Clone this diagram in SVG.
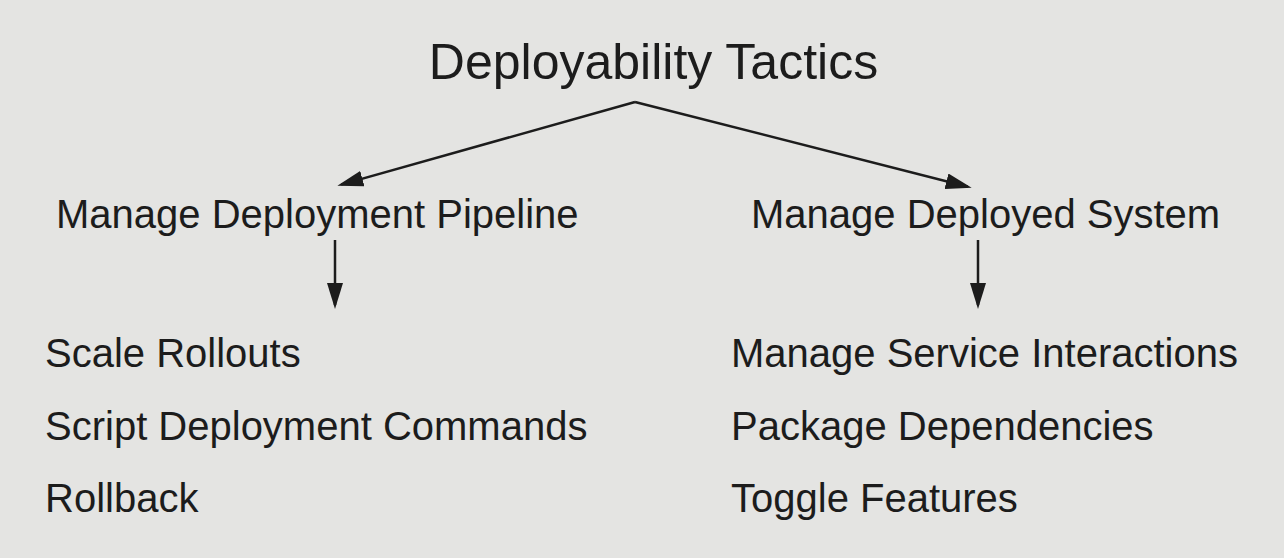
<svg xmlns="http://www.w3.org/2000/svg" width="1284" height="558" viewBox="0 0 1284 558">
  <style>
    .t { font-family: "Liberation Sans", Arial, Helvetica, sans-serif; fill: #1c1c1c; }
    .title { font-size: 50px; }
    .lvl { font-size: 40px; }
    .conn { stroke: #1c1c1c; stroke-width: 2.5; fill: none; }
  </style>
  <defs>
    <marker id="arrow" viewBox="0 0 26 16" refX="22" refY="8" markerWidth="26" markerHeight="16" markerUnits="userSpaceOnUse" orient="auto">
      <path d="M0,0 L26,8 L0,16 z" fill="#1c1c1c"/>
    </marker>
  </defs>
  <rect x="0" y="0" width="1284" height="558" fill="#e4e4e2"/>

  <g id="root">
    <text class="t title" x="653.5" y="79" text-anchor="middle">Deployability Tactics</text>
  </g>

  <g id="pipeline">
    <text class="t lvl" x="56" y="228">Manage Deployment Pipeline</text>
  </g>

  <g id="system">
    <text class="t lvl" x="751" y="228">Manage Deployed System</text>
  </g>

  <g id="pipeline-tactics">
    <text class="t lvl" x="45" y="367">Scale Rollouts</text>
    <text class="t lvl" x="45" y="440">Script Deployment Commands</text>
    <text class="t lvl" x="45" y="512">Rollback</text>
  </g>

  <g id="system-tactics">
    <text class="t lvl" x="731" y="367">Manage Service Interactions</text>
    <text class="t lvl" x="731" y="440">Package Dependencies</text>
    <text class="t lvl" x="731" y="512">Toggle Features</text>
  </g>

  <g id="connectors">
    <line class="conn" x1="635" y1="102" x2="341.2" y2="184.6" marker-end="url(#arrow)"/>
    <line class="conn" x1="635" y1="102" x2="967.8" y2="186.7" marker-end="url(#arrow)"/>
    <line class="conn" x1="335" y1="240" x2="335" y2="305" marker-end="url(#arrow)"/>
    <line class="conn" x1="978" y1="240" x2="978" y2="305" marker-end="url(#arrow)"/>
  </g>
</svg>
